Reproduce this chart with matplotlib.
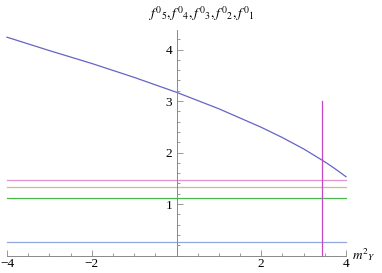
import matplotlib.pyplot as plt
from matplotlib.ticker import MultipleLocator, FixedLocator

# datos
x_curva = [-4, -3, -2, -1, 0, 1, 2, 2.5, 3, 3.5, 3.75, 4]
y_curva = [4.24, 3.98, 3.73, 3.46, 3.17, 2.85, 2.49, 2.29, 2.07, 1.82, 1.68, 1.53]

x_rango = [-4, 4]
niveles = [1.47, 1.33, 1.12, 0.26]
colores_niveles = ["#df93cf", "#c9bd8f", "#4db84d", "#93a8da"]

x_vertical = 3.43
y_vertical = [0, 3.0]

plt.rcParams["mathtext.fontset"] = "stix"
plt.rcParams["font.family"] = "Liberation Serif"

fig = plt.figure(figsize=(3.82, 2.73), dpi=100)
ax = fig.add_axes([7 / 382, 1 - 255.5 / 273, (346 - 7) / 382, (255.5 - 30) / 273])

ax.plot(x_curva, y_curva, color="#6464c8", lw=0.9, clip_on=False)
for nivel, c in zip(niveles, colores_niveles):
    ax.plot(x_rango, [nivel, nivel], color=c, lw=0.9, clip_on=False)
ax.plot([x_vertical, x_vertical], y_vertical, color="#c447c4", lw=0.9, clip_on=False)

ax.set_xlim(-4, 4)
ax.set_ylim(0, 4.38)

# ejes al estilo Mathematica
ax.spines["left"].set_position(("data", 0))
ax.spines["bottom"].set_position(("data", 0))
ax.spines["top"].set_visible(False)
ax.spines["right"].set_visible(False)
for s in ["left", "bottom"]:
    ax.spines[s].set_color("#888888")
    ax.spines[s].set_linewidth(0.7)

ax.xaxis.set_major_locator(FixedLocator([-4, -2, 2, 4]))
ax.xaxis.set_minor_locator(MultipleLocator(0.5))
ax.yaxis.set_major_locator(FixedLocator([1, 2, 3, 4]))
ax.yaxis.set_minor_locator(MultipleLocator(0.2))
ax.set_xticklabels(["\u22124", "\u22122", "2", "4"])
ax.tick_params(which="both", direction="in", color="#888888", width=0.6,
               labelsize=9.5, pad=3)
ax.tick_params(which="major", length=4)
ax.tick_params(which="minor", length=2)
ax.tick_params(axis="x", pad=2)

ax.patch.set_visible(False)

fig.text(148 / 382, 1 - 14 / 273,
         r"$f^{0}{}_{5},f^{0}{}_{4},f^{0}{}_{3},f^{0}{}_{2},f^{0}{}_{1}$",
         fontsize=10, ha="left", va="center")
fig.text(352 / 382, 1 - 255 / 273, r"$m^{2}{}_{Y}$",
         fontsize=9.5, ha="left", va="center")

fig.savefig("out.png", dpi=100)
